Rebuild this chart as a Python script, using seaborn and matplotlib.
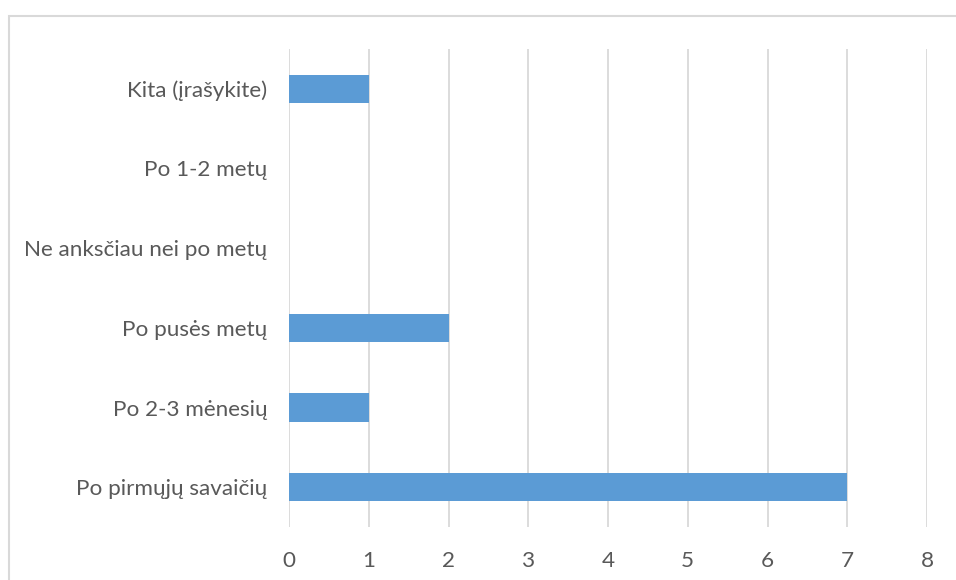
import matplotlib
matplotlib.use("Agg")
import matplotlib.pyplot as plt
from matplotlib.patches import Rectangle
import seaborn as sns
import pandas as pd

# Survey answers (top to bottom) and number of respondents
categories = [
    "Kita (įrašykite)",
    "Po 1-2 metų",
    "Ne anksčiau nei po metų",
    "Po pusės metų",
    "Po 2-3 mėnesių",
    "Po pirmųjų savaičių",
]
counts = [1, 0, 0, 2, 1, 7]
x_ticks = [0, 1, 2, 3, 4, 5, 6, 7, 8]

BAR_COLOR = "#5b9bd5"
GRID_COLOR = "#d9d9d9"
TEXT_COLOR = "#595959"

sns.set_theme(style="white")
plt.rcParams["font.family"] = ["Lato", "DejaVu Sans"]

df = pd.DataFrame({"answer": categories, "count": counts})

fig = plt.figure(figsize=(9.56, 5.8), dpi=100)
ax = fig.add_axes([289 / 956, 53 / 580, 638 / 956, 478 / 580])

sns.barplot(data=df, x="count", y="answer", order=categories,
            color=BAR_COLOR, saturation=1, width=0.355, linewidth=0, ax=ax)

ax.set_xlim(0, 8)
ax.set_ylim(len(categories) - 0.5, -0.5)
ax.set_xticks(x_ticks)
ax.set_xticklabels([str(t) for t in x_ticks])
ax.xaxis.grid(True, color=GRID_COLOR, linewidth=1.3)
ax.yaxis.grid(False)
ax.set_axisbelow(True)
for sp in ax.spines.values():
    sp.set_visible(False)
ax.set_xlabel("")
ax.set_ylabel("")
ax.tick_params(axis="x", length=0, pad=17, labelsize=16.2, labelcolor=TEXT_COLOR)
ax.tick_params(axis="y", length=0, pad=15.5, labelsize=16.2, labelcolor=TEXT_COLOR)

# Chart-area frame
fig.patches.append(Rectangle((8.5 / 956, -0.1), 1.2, 1 - 15.5 / 580 + 0.1,
                             transform=fig.transFigure, fill=False,
                             edgecolor=GRID_COLOR, linewidth=1.5, clip_on=False))

fig.savefig("out.png", dpi=100, facecolor="white")
